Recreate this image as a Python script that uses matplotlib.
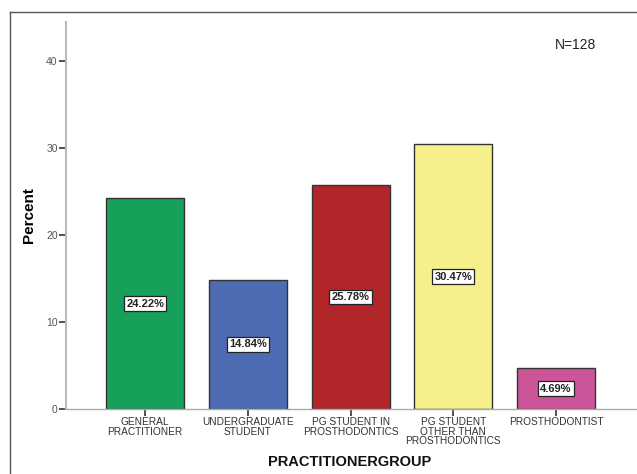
import matplotlib
matplotlib.use("Agg")
import matplotlib.pyplot as plt
from matplotlib.lines import Line2D

categories = ["GENERAL\nPRACTITIONER", "UNDERGRADUATE\nSTUDENT", "PG STUDENT IN\nPROSTHODONTICS",
              "PG STUDENT\nOTHER THAN\nPROSTHODONTICS", "PROSTHODONTIST"]
values = [24.22, 14.84, 25.78, 30.47, 4.69]
colors = ["#17A05A", "#4E6CB4", "#B2262A", "#F6F08A", "#CC5599"]
yticks = [0, 10, 20, 30, 40]

plt.rcParams['font.family'] = ['Liberation Sans', 'DejaVu Sans']
fig = plt.figure(figsize=(6.37, 4.74), dpi=100)
ax = fig.add_axes([66/637, 65/474, (637-66)/637 + 0.01, (409-22)/474])

x = list(range(len(values)))
ax.bar(x, values, width=0.76, color=colors, edgecolor="#333333", linewidth=1.0, zorder=2)
for xi, v in zip(x, values):
    ax.text(xi, v/2, f"{v:.2f}%", ha="center", va="center", fontsize=8, fontweight="bold",
            color="#222222",
            bbox=dict(boxstyle="square,pad=0.2", facecolor="white", edgecolor="#222222", linewidth=0.9),
            zorder=3)

ax.set_xlim(-0.77, 4.85)
ax.set_ylim(0, 44.5)
ax.set_yticks(yticks)
ax.set_xticks(x)
ax.set_xticklabels(categories, fontsize=7.3, color="#333333", linespacing=0.9)
ax.tick_params(axis="y", direction="out", length=5, width=1.2, color="#333333", labelsize=7.5,
               labelcolor="#555555", pad=1)
ax.tick_params(axis="x", direction="out", length=5, width=1.2, color="#333333", pad=1)
for s in ["top", "right"]:
    ax.spines[s].set_visible(False)
ax.spines["left"].set_color("#BBBBBB")
ax.spines["left"].set_linewidth(1.5)
ax.spines["bottom"].set_color("#AAAAAA")
ax.spines["bottom"].set_linewidth(1.0)

ax.set_ylabel("Percent", fontsize=11, fontweight="bold", labelpad=7)
fig.text(350/637, 1 - 462/474, "PRACTITIONERGROUP", ha="center", va="center", fontsize=10.5,
         fontweight="bold", color="#111111")
fig.text(575/637, 1 - 45/474, "N=128", ha="center", va="center", fontsize=10, color="#222222")

# outer frame
fig.add_artist(Line2D([10/637, 10/637], [0, 1 - 12/474], transform=fig.transFigure,
                      color="#555555", linewidth=1.0))
fig.add_artist(Line2D([10/637, 1], [1 - 12/474, 1 - 12/474], transform=fig.transFigure,
                      color="#555555", linewidth=1.0))

fig.savefig("out.png", dpi=100)
